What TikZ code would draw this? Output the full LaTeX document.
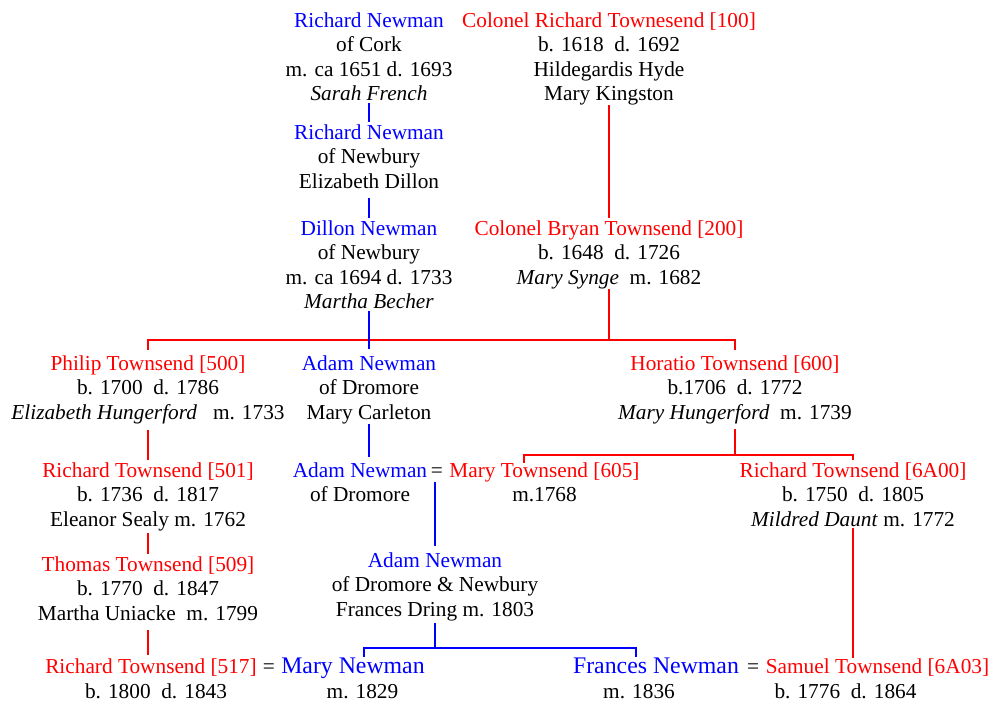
\documentclass[tikz,border=0pt]{standalone}
\usepackage{fontspec}
\setmainfont{Liberation Serif}
\definecolor{nblue}{RGB}{0,0,255}
\definecolor{tred}{RGB}{255,0,0}
\newcommand\bluename[1]{\textcolor{nblue}{#1}}
\newcommand\redname[1]{\textcolor{tred}{#1}}
\begin{document}
\begin{tikzpicture}[x=1pt,y=-1pt,
  txt/.style={font=\fontsize{21.3}{24.5}\selectfont, inner sep=0pt, outer sep=0pt},
  blk/.style={txt, align=center, anchor=north, yshift=17.15pt},
  one/.style={txt, anchor=base},
  big/.style={one, font=\fontsize{23.8}{27}\selectfont},
  link/.style={line width=1.8pt},
  bl/.style={link, draw=nblue},
  rd/.style={link, draw=tred}]
\useasboundingbox (0,0) rectangle (993,701);

% Newman line
\node[blk] (RN1) at (369,27) {\strut\bluename{Richard Newman}\\of Cork\\m. ca 1651 d. 1693\\\textit{Sarah French}};
\node[blk] (RN2) at (369,139) {\strut\bluename{Richard Newman}\\of Newbury\\Elizabeth Dillon};
\node[blk] (DN) at (369,235) {\strut\bluename{Dillon Newman}\\of Newbury\\m. ca 1694 d. 1733\\\textit{Martha Becher}};
\node[blk] (AN1) at (369,370) {\strut\bluename{Adam Newman}\\of Dromore\\Mary Carleton};
\node[blk] (AN2) at (360,477) {\strut\bluename{Adam Newman}\\of Dromore};
\node[one] (eqA) at (437,477) {=};
\node[blk] (AN3) at (435,567) {\strut\bluename{Adam Newman}\\of Dromore \& Newbury\\Frances Dring m. 1803};

% Townsend line
\node[blk] (CRT) at (609,27) {\strut\redname{Colonel Richard Townesend [100]}\\b. 1618\ \ d. 1692\\Hildegardis Hyde\\Mary Kingston};
\node[blk] (CBT) at (609,235) {\strut\redname{Colonel Bryan Townsend [200]}\\b. 1648\ \ d. 1726\\\textit{Mary Synge}\ \ m. 1682};
\node[blk] (PT) at (148,370) {\strut\redname{Philip Townsend [500]}\\b. 1700\ \ d. 1786\\\textit{Elizabeth Hungerford}\ \ \ m. 1733};
\node[blk] (HT) at (735,370) {\strut\redname{Horatio Townsend [600]}\\b.1706\ \ d. 1772\\\textit{Mary Hungerford}\ \ m. 1739};
\node[blk] (RT501) at (148,477) {\strut\redname{Richard Townsend [501]}\\b. 1736\ \ d. 1817\\Eleanor Sealy m. 1762};
\node[blk] (MT605) at (544.5,477) {\strut\redname{Mary Townsend [605]}\\m.1768};
\node[blk] (RT6A00) at (853,477) {\strut\redname{Richard Townsend [6A00]}\\b. 1750\ \ d. 1805\\\textit{Mildred Daunt} m. 1772};
\node[blk] (TT509) at (148,571) {\strut\redname{Thomas Townsend [509]}\\b. 1770\ \ d. 1847\\Martha Uniacke\ \ m. 1799};

% bottom row: the two marriages
\node[one] (RT517) at (151,673) {\redname{Richard Townsend [517]}};
\node[one] (RT517d) at (156,698) {b. 1800\ \ d. 1843};
\node[one] (eqB) at (269,673) {=};
\node[big] (MN) at (353,673) {\bluename{Mary Newman}};
\node[one] (MNm) at (362.5,698) {m. 1829};
\node[big] (FN) at (656,673) {\bluename{Frances Newman}};
\node[one] (FNm) at (639,698) {m. 1836};
\node[one] (eqC) at (753,673) {=};
\node[one] (ST) at (877.5,673) {\redname{Samuel Townsend [6A03]}};
\node[one] (STd) at (845.5,698) {b. 1776\ \ d. 1864};

% junction points of the family bars
\coordinate (famB) at (609,340);
\coordinate (famH) at (735,455);
\coordinate (dropMT) at (524,463);
\coordinate (famC) at (435,648);
\coordinate (dropMN) at (364,657);
\coordinate (dropFN) at (636,657);

% red connectors
\draw[rd] (CRT.south) -- (CBT.north);
\draw[rd] (CBT.south) -- (famB);
\draw[rd, shorten <=3pt, shorten >=3pt] (PT.north) |- (famB) -| (HT.north);
\draw[rd, shorten <=6pt] (PT.south) -- (RT501.north);
\draw[rd, shorten <=2pt] (RT501.south) -- (TT509.north);
\draw[rd, shorten <=10pt, shorten >=3pt] (TT509.south) -- (TT509.south |- RT517.north);
\draw[rd, shorten <=5pt] (HT.south) -- (famH);
\draw[rd] (dropMT) |- (famH) -| (RT6A00.north);
\draw[rd, shorten <=2pt] (RT6A00.south) -- (RT6A00.south |- ST.north);

% blue connectors
\draw[bl, shorten <=2.5pt] (RN1.south) -- (RN2.north);
\draw[bl, shorten <=10pt] (RN2.south) -- (DN.north);
\draw[bl, shorten <=2.5pt, shorten >=4pt] (DN.south) -- (AN1.north);
\draw[bl, shorten >=3pt] (AN1.south) -- (AN1.south |- AN2.north);
\draw[bl, shorten <=5pt, shorten >=4pt] (AN3.north |- eqA.south) -- (AN3.north);
\draw[bl, shorten <=2pt] (AN3.south) -- (famC);
\draw[bl] (dropMN) |- (famC) -| (dropFN);
\end{tikzpicture}
\end{document}
